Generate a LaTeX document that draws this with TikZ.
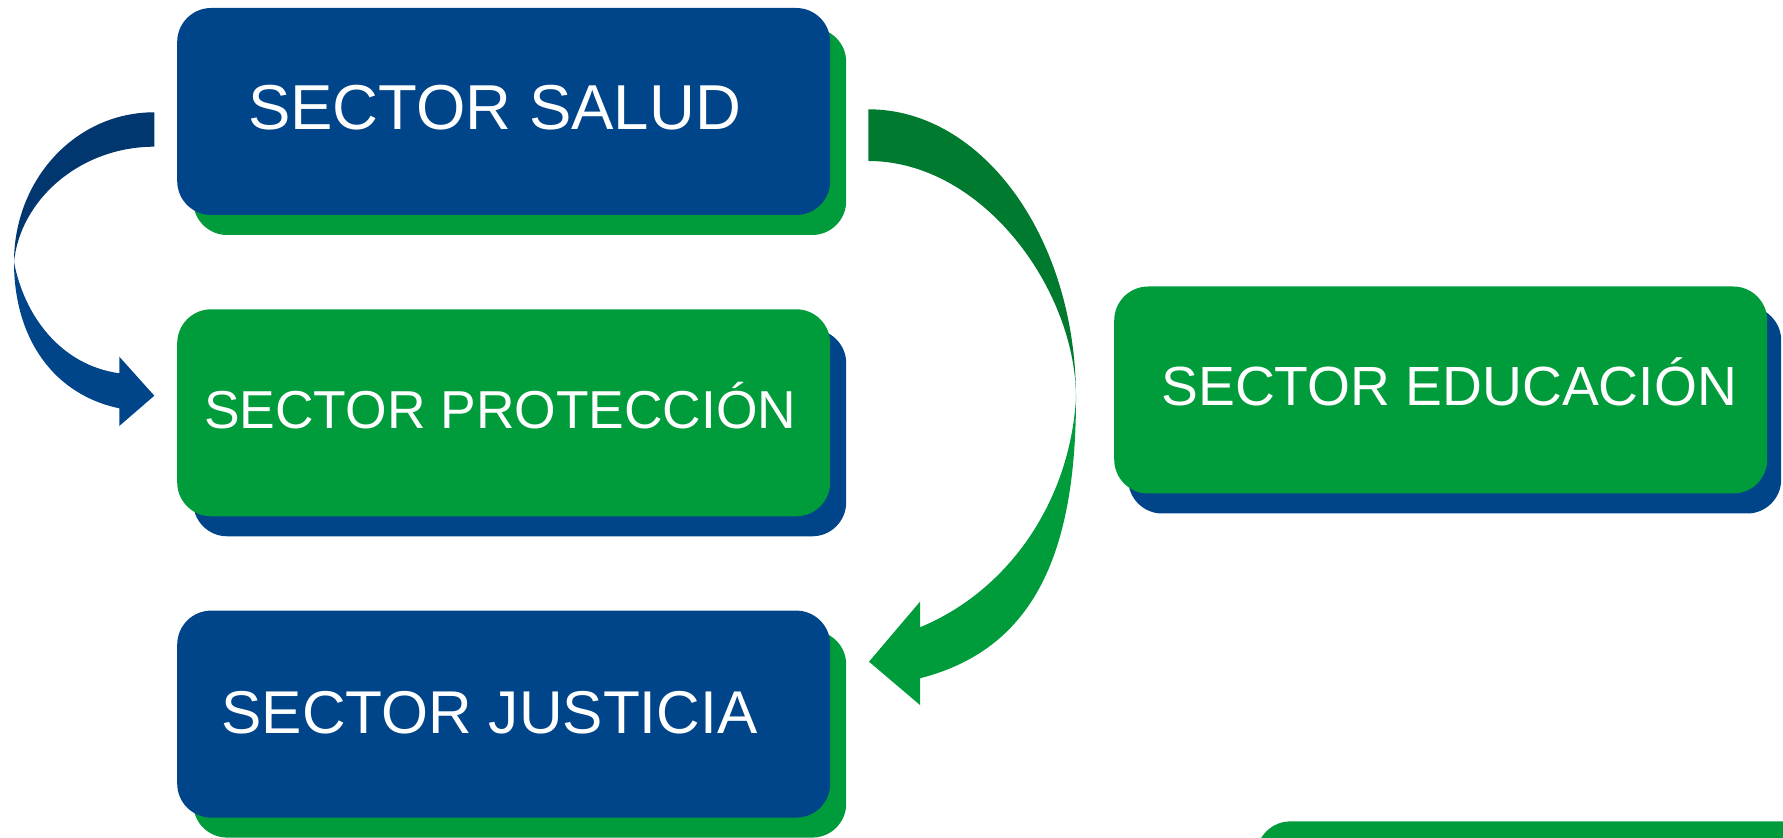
\documentclass[tikz,border=0pt]{standalone}
\usepackage{fontspec}
\setmainfont{Liberation Sans}
\usetikzlibrary{shadows}
\definecolor{cblue}{RGB}{0,68,137}
\definecolor{cgreen}{RGB}{0,155,58}
\definecolor{dblue}{RGB}{1,54,111}
\definecolor{dgreen}{RGB}{0,122,47}
\tikzset{
  sectorbox/.style={rounded corners=17pt, minimum width=326.5pt, minimum height=103.5pt, inner sep=0pt, draw=none},
  backshade/.style={drop shadow={opacity=1, fill=#1, shadow xshift=8pt, shadow yshift=-10pt}},
  sectortext/.style={text=white, inner sep=0pt, anchor=base},
}
\begin{document}
\begin{tikzpicture}[x=0.5pt, y=-0.5pt]
\useasboundingbox (0,0) rectangle (1783,838);
% boxes
\node[sectorbox, fill=cblue, backshade=cgreen] (salud) at (503.7,111.5) {};
\node[sectorbox, fill=cgreen, backshade=cblue] (proteccion) at (503.7,412.8) {};
\node[sectorbox, fill=cblue, backshade=cgreen] (justicia) at (503.7,714.1) {};
\node[sectorbox, fill=cgreen, drop shadow={opacity=1, fill=cblue, shadow xshift=7pt, shadow yshift=-10pt}] (educacion) at (1440.7,390) {};
\node[sectorbox, fill=cgreen, anchor=north west] (siguiente) at (1256,821) {};
% texts
\node[sectortext, font=\fontsize{31.75pt}{38pt}\selectfont] (tsalud) at (494.6,129.6) {SECTOR SALUD};
\node[sectortext, font=\fontsize{26.7pt}{32pt}\selectfont] (tproteccion) at (500.3,428.5) {SECTOR PROTECCIÓN};
\node[sectortext, font=\fontsize{30.2pt}{36pt}\selectfont] (tjusticia) at (489.5,733.4) {SECTOR JUSTICIA};
\node[sectortext, font=\fontsize{27.6pt}{33pt}\selectfont] (teducacion) at (1449.2,405.5) {SECTOR EDUCACIÓN};
% left curved arrow (upper, dark part)
\fill[dblue] (154.3,112.3) .. controls (75,112.3) and (14,180) .. (14,262)
  .. controls (20,200) and (80,146.7) .. (154.3,146.7) -- cycle;
% left curved arrow (lower part with head)
\fill[cblue] (14,262) .. controls (14,340) and (55,395) .. (119.3,408.3)
  -- (119.3,426) -- (154.3,395.7) -- (119.3,356.7) -- (119.3,373.3)
  .. controls (60,365) and (24,315) .. (14,262) -- cycle;
% right curved arrow (upper, dark part)
\fill[dgreen] (868.3,109.3) .. controls (983,109.3) and (1076,238.6) .. (1076,398)
  .. controls (1076,290) and (983,161) .. (868.3,161) -- cycle;
% right curved arrow (lower part with head)
\fill[cgreen] (1076,398) .. controls (1076,560) and (1030,650) .. (920,678.3)
  -- (920,705) -- (869,661.7) -- (920,601.7) -- (920,627.3)
  .. controls (1010,590) and (1070,500) .. (1076,398) -- cycle;
\end{tikzpicture}
\end{document}
